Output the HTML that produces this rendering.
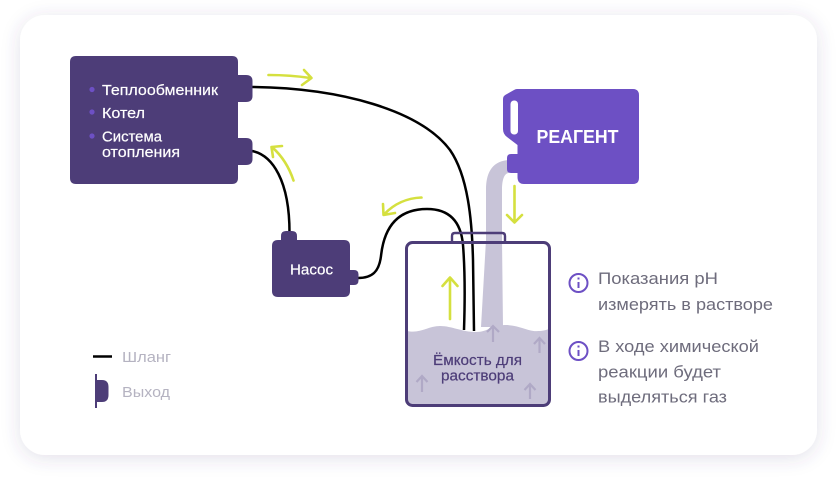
<!DOCTYPE html>
<html lang="ru"><head><meta charset="utf-8"><title>Схема</title>
<style>
html,body{margin:0;padding:0;background:#fff}
svg{display:block}
text{font-family:"Liberation Sans","DejaVu Sans",sans-serif}
.l{fill:#fff;font-size:15px;stroke:#fff;stroke-width:.2}
.i{fill:#6e6c7c;font-size:17px}
.g{fill:#b5b3c1;font-size:15px}
.y{fill:none;stroke:#d5e03f;stroke-width:2.6;stroke-linecap:round;stroke-linejoin:round}
.a{fill:none;stroke:#b0a9c6;stroke-width:2.2}
.h{fill:none;stroke:#000;stroke-width:2.5}
.t{fill:#4d3d78;font-size:14.5px;stroke:#4d3d78;stroke-width:.2}
</style></head><body>
<svg width="837" height="481" viewBox="0 0 837 481" xmlns="http://www.w3.org/2000/svg">
<defs><filter id="s" x="-10%" y="-10%" width="120%" height="125%"><feDropShadow dx="0" dy="3" stdDeviation="9" flood-color="#4d3d78" flood-opacity=".16"/></filter></defs>
<rect width="837" height="481" fill="#fff"/>
<rect x="20" y="15" width="797" height="440" rx="25" fill="#fff" filter="url(#s)"/>

<!-- stream -->
<path d="M509 160 C494 161 486 170 486 190 L486 240 L481 327 L503 327 L502 240 L502 190 C502 178 505 173 509 173 Z" fill="#c8c4d8"/>
<!-- liquid -->
<path d="M407 331 C420 334 428 326 440 326 C452 326 462 332 476 332 C488 332 492 325 505 325 C520 325 528 332 538 331 C543 331 546 330 549 329 L549 405 L407 405 Z" fill="#c8c4d8"/>

<!-- hoses -->
<path class="h" d="M252 87 C340 88 420 110 450 150 C468 176 472 220 473 260 L474 331"/>
<path class="h" d="M358 278 C372 278 379 272 381 256 C384 228 397 209 427 209 C450 209 461 222 463 245 C465 270 465 300 464 330"/>
<path class="h" d="M252 151 C272 155 290 180 289.500 235"/>

<!-- tank -->
<rect x="406.500" y="242.500" width="143" height="163" rx="6" fill="none" stroke="#4d3d78" stroke-width="3"/>
<path d="M452 242 V236 Q452 233 455 233 H502 Q505 233 505 236 V242" fill="none" stroke="#4d3d78" stroke-width="2.400"/>

<!-- heat box -->
<path d="M76 56 H232 Q238 56 238 62 V75 H246 Q252.500 75 252.500 81 V96 Q252.500 102 246 102 H238 V138 H246 Q252.500 138 252.500 144 V159 Q252.500 165 246 165 H238 V178 Q238 184 232 184 H76 Q70 184 70 178 V62 Q70 56 76 56 Z" fill="#4d3d78"/>
<circle cx="92" cy="89.500" r="2.600" fill="#6d50c4"/>
<circle cx="92" cy="112" r="2.600" fill="#6d50c4"/>
<circle cx="92" cy="136" r="2.600" fill="#6d50c4"/>
<text class="l" x="102" y="95" textLength="116" lengthAdjust="spacingAndGlyphs">Теплообменник</text>
<text class="l" x="102" y="118" textLength="43" lengthAdjust="spacingAndGlyphs">Котел</text>
<text class="l" x="102" y="141.500" textLength="60" lengthAdjust="spacingAndGlyphs">Система</text>
<text class="l" x="102" y="157" textLength="78" lengthAdjust="spacingAndGlyphs">отопления</text>

<!-- pump -->
<path d="M278 240 H281 V236 Q281 231 286 231 H292 Q297 231 297 236 V240 H344 Q350 240 350 246 V270 H354 Q358.500 270 358.500 274.500 V280.500 Q358.500 285 354 285 H350 V291 Q350 297 344 297 H278 Q272 297 272 291 V246 Q272 240 278 240 Z" fill="#4d3d78"/>
<text class="l" x="290" y="274.500" textLength="43" lengthAdjust="spacingAndGlyphs">Насос</text>

<!-- reagent -->
<path d="M517 89 H633 Q639 89 639 95 V178 Q639 184 633 184 H524 Q517.500 184 517.500 177 V173 H511 Q507 173 507 169 V158 Q507 154 511 154 H517.500 V145 L507 137 Q503 134 503 129 V99 Q503 96 506 94.500 L514 90 Q515.500 89 517 89 Z" fill="#6d50c4"/>
<rect x="510.500" y="100.500" width="7.500" height="34" rx="3.500" fill="#fff"/>
<text x="536.500" y="143" fill="#fff" font-size="18" font-weight="700" textLength="82" lengthAdjust="spacingAndGlyphs">РЕАГЕНТ</text>

<!-- yellow arrows -->
<path class="y" d="M268.500 75 C283 75 297 76 310.500 78 M304 70 L311.500 78 L302 85"/>
<path class="y" d="M293.500 180.500 C289 167 282 156 272.500 147.500 M282 146 L271.500 147 L273 157"/>
<path class="y" d="M421.500 197.500 C407 198 394 204 384.500 214 M383 204 L383.500 215 L395 213"/>
<path class="y" d="M514.500 186 V222 M507 215 L514.500 222.500 L522 215"/>
<path class="y" d="M450 319 V278 M442.500 286 L450 277.500 L457.500 286"/>

<!-- gas arrows -->
<path class="a" d="M493 342 V326 M487 332 L493 326 L499 332"/>
<path class="a" d="M539.500 353 V338 M534 344 L539.500 338 L545 344"/>
<path class="a" d="M422 392 V376 M416.500 382 L422 376 L427.500 382"/>
<path class="a" d="M530 399 V384 M524.500 390 L530 384 L535.500 390"/>

<text class="t" x="433" y="365" textLength="89" lengthAdjust="spacingAndGlyphs">Ёмкость для</text>
<text class="t" x="441" y="380.500" textLength="73" lengthAdjust="spacingAndGlyphs">расствора</text>

<!-- legend -->
<path d="M93 356.500 H112" stroke="#000" stroke-width="2.400"/>
<path d="M96 374 V408" stroke="#4d3d78" stroke-width="2"/>
<path d="M96 380 H102 Q108.500 380 108.500 387 V395 Q108.500 402 102 402 H96 Z" fill="#4d3d78"/>
<text class="g" x="122" y="362" textLength="49" lengthAdjust="spacingAndGlyphs">Шланг</text>
<text class="g" x="122" y="397" textLength="48" lengthAdjust="spacingAndGlyphs">Выход</text>

<!-- info -->
<g fill="none" stroke="#6d50c4" stroke-width="2">
<circle cx="578.500" cy="283" r="9"/><path d="M578.500 282 V288"/><path d="M578.500 277.500 V279.500"/>
<circle cx="578.500" cy="351" r="9"/><path d="M578.500 350 V356"/><path d="M578.500 345.500 V347.500"/>
</g>
<text class="i" x="598" y="284" textLength="120" lengthAdjust="spacingAndGlyphs">Показания pH</text>
<text class="i" x="598" y="310" textLength="175" lengthAdjust="spacingAndGlyphs">измерять в растворе</text>
<text class="i" x="598" y="352" textLength="161" lengthAdjust="spacingAndGlyphs">В ходе химической</text>
<text class="i" x="598" y="377.500" textLength="123" lengthAdjust="spacingAndGlyphs">реакции будет</text>
<text class="i" x="598" y="402.500" textLength="129" lengthAdjust="spacingAndGlyphs">выделяться газ</text>
</svg>
</body></html>
